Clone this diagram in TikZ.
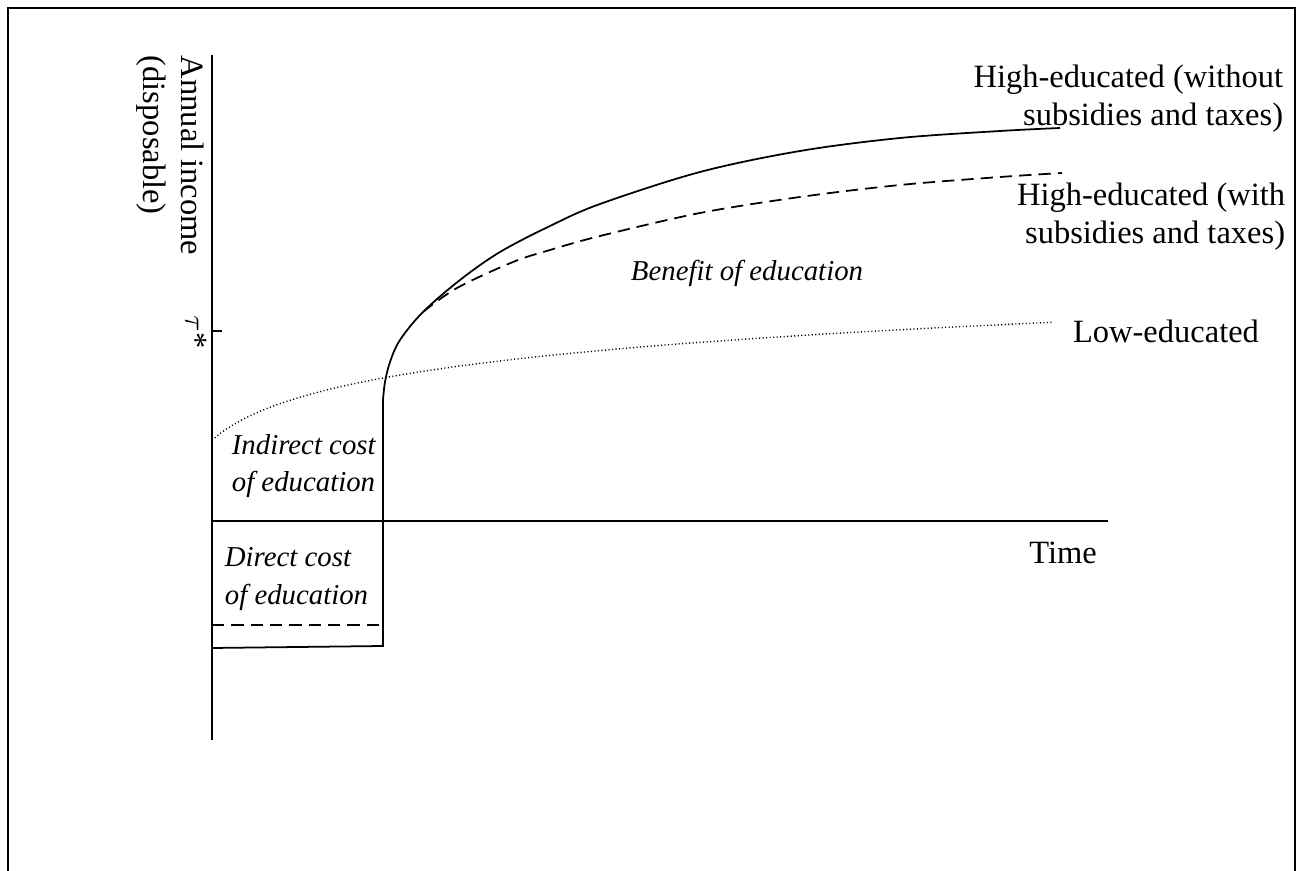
\documentclass[tikz,border=0pt]{standalone}
\usepackage{fontspec}
\setmainfont{Liberation Serif}
\usetikzlibrary{positioning, calc}

\begin{document}
\begin{tikzpicture}[
    x=0.02cm, y=-0.02cm,
    line width=1pt,
    lbl/.style={font=\fontsize{18.5}{21.5}\selectfont, inner sep=0pt},
    costlbl/.style={lbl, font=\fontsize{16.4}{21.5}\selectfont\itshape, align=left},
    highlbl/.style={lbl, align=right},
    taxed/.style={dash pattern=on 7pt off 4pt},
    lowcurve/.style={line width=0.8pt, dash pattern=on 0.6pt off 1.4pt}
]
\useasboundingbox (0,0) rectangle (1303,871);
% frame
\draw[line width=1.3pt] (8,871) -- (8,8) -- (1295,8) -- (1295,871);

% axes
\coordinate (ytop) at (212,55);
\coordinate (ybot) at (212,740);
\coordinate (orig) at (212,521);
\coordinate (xend) at (1108,521);
\coordinate (tau) at (212,331);
\draw (ytop) -- (ybot);
\draw (orig) -- (xend);
\draw (tau) -- ++(10,0);
\node[lbl, rotate=-90, anchor=north west, align=left] (ylab) at (205,55) {Annual income\\(disposable)};
\node[lbl, rotate=-90] (taulab) at (196,332) {$\tau$*};
\node[lbl] (timelab) at (1063,553) {Time};

% low-educated
\draw[lowcurve] plot[domain=0:841, samples=120] ({212+\x},{440-39.5*ln(1+\x/45)});

% high-educated, study period
\coordinate (c1) at (212,648);
\coordinate (c2) at (383,646);
\coordinate (c3) at (383,400);
\draw (c1) -- (c2) -- (c3);
\draw[taxed] (212,625) -- (383,625);
\draw plot[smooth, tension=0.55] coordinates {(383,400) (385,382) (390,362) (400,340) (423,312) (460,280) (500,252) (550,226) (600,204) (700,172) (800,151) (900,138) (1000,131) (1060,128)};
\draw[taxed] plot[smooth, tension=0.55] coordinates {(423,312) (457,288) (513,262) (550,250) (600,236) (700,213) (800,197) (900,185) (1000,177) (1062,173)};

% labels
\node[costlbl, anchor=west] (indirect) at (231,466) {Indirect cost\\of education};
\node[costlbl, anchor=west] (direct) at (224,579) {Direct cost\\of education};
\node[lbl, font=\fontsize{16.4}{21.5}\selectfont\itshape] (benefit) at (747,273) {Benefit of education};
\node[highlbl, anchor=east] (hinotax) at (1284,99) {High-educated (without\\subsidies and taxes)};
\node[highlbl, anchor=east] (hitax) at (1286,217) {High-educated (with\\subsidies and taxes)};
\node[lbl] (lowlab) at (1166,331) {Low-educated};
\end{tikzpicture}
\end{document}
